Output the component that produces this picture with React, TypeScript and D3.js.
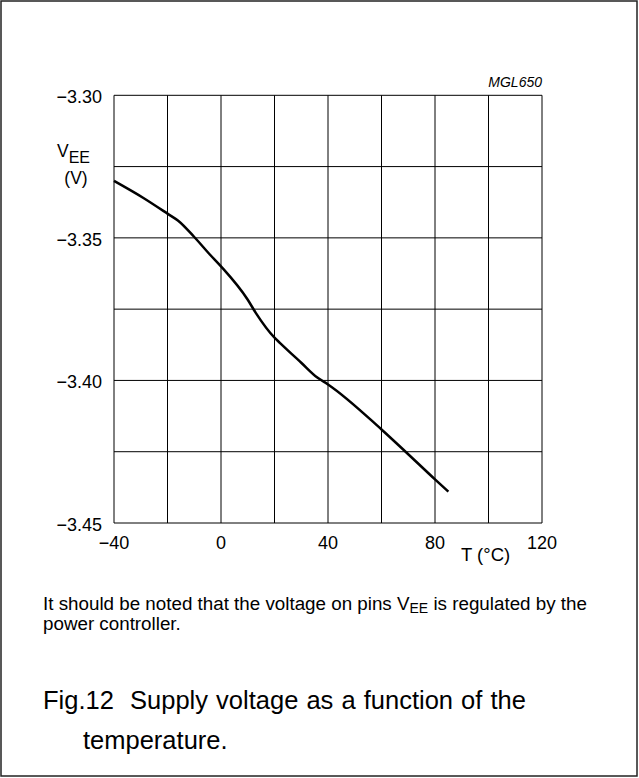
import * as d3 from 'd3';
import { useEffect, useRef } from 'react';

// curve
const temps = [-40, -29, -20, -16, -10, -4, 0, 10, 13, 20, 22, 30, 36, 40, 60, 69, 80, 85];
const volts = [-3.330, -3.336, -3.3415, -3.344, -3.3497, -3.356, -3.360, -3.3717, -3.3763, -3.385, -3.3868, -3.3938, -3.399, -3.4014, -3.4172, -3.425, -3.4347, -3.439];

const xGrid = [-40, -20, 0, 20, 40, 60, 80, 100, 120];
const yGrid = [-3.30, -3.325, -3.35, -3.375, -3.40, -3.425, -3.45];
const xLabels = [-40, 0, 40, 80, 120];
const yLabels = [-3.30, -3.35, -3.40, -3.45];

const W = 639;
const H = 778;
const FONT = "'Liberation Sans', Arial, Helvetica, sans-serif";

export default function App() {
  const svgRef = useRef<SVGSVGElement | null>(null);

  useEffect(() => {
    document.body.style.margin = '0';
    if (!svgRef.current) return;
    const svg = d3.select(svgRef.current);
    svg.selectAll('*').remove();
    svg.attr('font-family', FONT);

    // outer frame
    svg.append('rect')
      .attr('x', 1).attr('y', 1)
      .attr('width', W - 3).attr('height', H - 3)
      .attr('fill', 'white')
      .attr('stroke', '#222')
      .attr('stroke-width', 1.5);

    const x = d3.scaleLinear().domain([-40, 120]).range([114, 542]);
    const y = d3.scaleLinear().domain([-3.30, -3.45]).range([95.3, 523]);

    const g = svg.append('g');

    // grid
    g.append('g')
      .selectAll('line')
      .data(xGrid)
      .join('line')
      .attr('x1', d => x(d)).attr('x2', d => x(d))
      .attr('y1', y(-3.30)).attr('y2', y(-3.45))
      .attr('stroke', '#000').attr('stroke-width', 1);

    g.append('g')
      .selectAll('line')
      .data(yGrid)
      .join('line')
      .attr('x1', x(-40)).attr('x2', x(120))
      .attr('y1', d => y(d)).attr('y2', d => y(d))
      .attr('stroke', '#000').attr('stroke-width', 1);

    // tick labels
    const fmtY = (v: number) => '\u2212' + Math.abs(v).toFixed(2);
    const fmtX = (v: number) => (v < 0 ? '\u2212' + Math.abs(v) : String(v));

    g.append('g')
      .selectAll('text')
      .data(yLabels)
      .join('text')
      .attr('x', x(-40) - 12)
      .attr('y', d => y(d) + 8)
      .attr('text-anchor', 'end')
      .attr('font-size', 18)
      .text(fmtY);

    g.append('g')
      .selectAll('text')
      .data(xLabels)
      .join('text')
      .attr('x', d => x(d))
      .attr('y', 549)
      .attr('text-anchor', 'middle')
      .attr('font-size', 18)
      .text(fmtX);

    // axis titles
    svg.append('text')
      .attr('x', 461).attr('y', 561)
      .attr('font-size', 18.5)
      .text('T (\u00b0C)');

    const vee = svg.append('text').attr('x', 57).attr('y', 157).attr('font-size', 17.5);
    vee.append('tspan').text('V');
    vee.append('tspan').attr('font-size', 16).attr('dy', 6).text('EE');

    svg.append('text')
      .attr('x', 76).attr('y', 184)
      .attr('text-anchor', 'middle')
      .attr('font-size', 17.5)
      .text('(V)');

    svg.append('text')
      .attr('x', 542).attr('y', 87)
      .attr('text-anchor', 'end')
      .attr('font-size', 14)
      .attr('font-style', 'italic')
      .text('MGL650');

    // curve
    const line = d3.line<number>()
      .x((_, i) => x(temps[i]))
      .y(d => y(d))
      .curve(d3.curveMonotoneX);

    g.append('path')
      .datum(volts)
      .attr('d', line)
      .attr('fill', 'none')
      .attr('stroke', '#000')
      .attr('stroke-width', 2.5);

    // note text
    const note = svg.append('text').attr('x', 43).attr('y', 610).attr('font-size', 18.8);
    note.append('tspan').text('It should be noted that the voltage on pins V');
    note.append('tspan').attr('font-size', 14).attr('dy', 3).text('EE');
    note.append('tspan').attr('dy', -3).text(' is regulated by the');

    svg.append('text')
      .attr('x', 43).attr('y', 630)
      .attr('font-size', 18.8)
      .text('power controller.');

    // caption
    svg.append('text')
      .attr('x', 43).attr('y', 709)
      .attr('font-size', 25.5)
      .attr('word-spacing', 1)
      .attr('xml:space', 'preserve')
      .text('Fig.12  Supply voltage as a function of the');

    svg.append('text')
      .attr('x', 83).attr('y', 749)
      .attr('font-size', 25.5)
      .text('temperature.');
  }, []);

  return <svg ref={svgRef} width={W} height={H} style={{ display: 'block' }} />;
}
